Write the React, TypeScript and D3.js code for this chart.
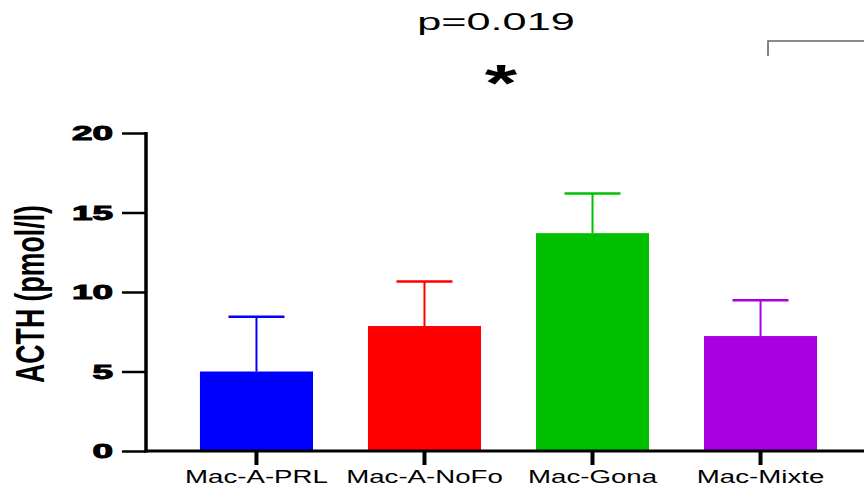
// ACTH bar chart with SD error bars, drawn with D3 scales
import { useEffect, useRef } from 'react';
import * as d3 from 'd3';

const categories = ['Mac-A-PRL', 'Mac-A-NoFo', 'Mac-Gona', 'Mac-Mixte'];
const means = [5.0, 7.86, 13.7, 7.23];
const errors = [3.45, 2.8, 2.5, 2.25];
const barColors = ['#0000ff', '#ff0000', '#00c000', '#a800e0'];
const yTicks = [0, 5, 10, 15, 20];

const W = 864;
const H = 488;

const App = () => {
  const svgRef = useRef<SVGSVGElement>(null);

  useEffect(() => {
    if (!svgRef.current) return;
    const svg = d3.select(svgRef.current);
    svg.selectAll('*').remove();

    const axisX = 146;
    const x = d3.scaleBand<string>()
      .domain(categories)
      .range([axisX, 871])
      .paddingInner(0.327)
      .paddingOuter(0.321);

    const y = d3.scaleLinear().domain([0, 20]).range([451, 133]);

    // bars
    svg.selectAll('.bar')
      .data(categories)
      .enter().append('rect')
      .attr('class', 'bar')
      .attr('x', d => x(d) || 0)
      .attr('width', x.bandwidth())
      .attr('y', (d, i) => y(means[i]))
      .attr('height', (d, i) => y(0) - y(means[i]))
      .attr('fill', (d, i) => barColors[i]);

    // error bars (upper only)
    const capW = 56;
    categories.forEach((c, i) => {
      const cx = (x(c) || 0) + x.bandwidth() / 2;
      const top = y(means[i] + errors[i]);
      svg.append('line')
        .attr('x1', cx).attr('x2', cx)
        .attr('y1', y(means[i])).attr('y2', top)
        .attr('stroke', barColors[i]).attr('stroke-width', 2);
      svg.append('line')
        .attr('x1', cx - capW / 2).attr('x2', cx + capW / 2)
        .attr('y1', top).attr('y2', top)
        .attr('stroke', barColors[i]).attr('stroke-width', 2.5);
    });

    // y axis
    const yAxis = svg.append('g')
      .attr('transform', `translate(${axisX},0)`)
      .call(d3.axisLeft(y).tickValues(yTicks).tickSize(24).tickFormat(d3.format('d')));
    yAxis.select('.domain').remove();
    yAxis.selectAll('.tick line').attr('stroke', '#000').attr('stroke-width', 2.5);
    yAxis.selectAll('text')
      .attr('x', 0)
      .attr('transform', 'translate(-33,0) scale(1.8,1)')
      .attr('fill', '#000')
      .style('font-family', '"Liberation Sans", Arial, sans-serif')
      .style('font-weight', 'bold')
      .style('font-size', '20.5px')
      .attr('stroke', '#000')
      .attr('stroke-width', 1);
    svg.append('line')
      .attr('x1', axisX).attr('x2', axisX)
      .attr('y1', y(20) - 1).attr('y2', y(0) + 1.5)
      .attr('stroke', '#000').attr('stroke-width', 3.5);

    // x axis
    const xAxis = svg.append('g')
      .attr('transform', `translate(0,${y(0)})`)
      .call(d3.axisBottom(x).tickSize(14));
    xAxis.select('.domain').remove();
    xAxis.selectAll('.tick line').attr('stroke', '#000').attr('stroke-width', 4);
    xAxis.selectAll('text')
      .attr('y', 0)
      .attr('dy', 0)
      .attr('transform', 'translate(0,31.5) scale(1.58,1)')
      .attr('fill', '#000')
      .style('font-family', '"Liberation Sans", Arial, sans-serif')
      .style('font-size', '17.5px');
    svg.append('line')
      .attr('x1', axisX - 1.5).attr('x2', W)
      .attr('y1', y(0)).attr('y2', y(0))
      .attr('stroke', '#000').attr('stroke-width', 3);

    // y title
    svg.append('text')
      .attr('transform', `translate(44,294) rotate(-90) scale(1,1.55)`)
      .attr('text-anchor', 'middle')
      .attr('textLength', 178)
      .attr('lengthAdjust', 'spacingAndGlyphs')
      .style('font-family', '"Liberation Sans", Arial, sans-serif')
      .style('font-weight', 'bold')
      .style('font-size', '26px')
      .attr('fill', '#000')
      .text('ACTH (pmol/l)');

    // significance annotation
    svg.append('text')
      .attr('transform', 'translate(496,30) scale(1.88,1)')
      .attr('text-anchor', 'middle')
      .style('font-family', '"Liberation Sans", Arial, sans-serif')
      .style('font-size', '23px')
      .attr('fill', '#000')
      .text('p=0.019');
    svg.append('text')
      .attr('transform', 'translate(501,101) scale(1.6,1)')
      .attr('text-anchor', 'middle')
      .style('font-family', '"Liberation Sans", Arial, sans-serif')
      .style('font-weight', 'bold')
      .style('font-size', '52px')
      .attr('fill', '#000')
      .text('*');
    svg.append('path')
      .attr('d', `M768,56 L768,41 L${W},41`)
      .attr('fill', 'none')
      .attr('stroke', '#666')
      .attr('stroke-width', 1.6);
  }, []);

  return (
    <svg
      ref={svgRef}
      width={W}
      height={H}
      style={{ position: 'absolute', left: 0, top: 0, background: '#fff' }}
    />
  );
};

export default App;
